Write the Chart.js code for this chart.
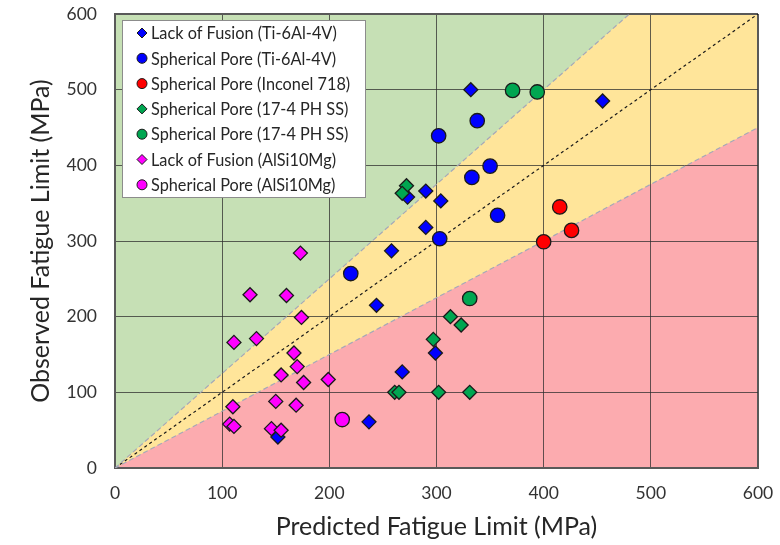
<!DOCTYPE html>
<html>
<head>
<meta charset="utf-8">
<script src="https://cdn.jsdelivr.net/npm/chart.js@4.4.1/dist/chart.umd.min.js"></script>
<style>
  html, body { margin: 0; padding: 0; background: #ffffff; }
  #wrap { width: 780px; height: 545px; }
</style>
</head>
<body>
<div id="wrap"><canvas id="chart" width="780" height="545"></canvas></div>
<script>
// Predicted vs observed fatigue limit (MPa), [predicted, observed]
const lackOfFusionTi = [
  [332, 500], [455, 485], [290, 366], [304, 353], [290, 318], [273, 358],
  [258, 287], [244, 215], [299, 152], [268, 127], [237, 61], [152, 41]
];
const sphericalPoreTi = [
  [338, 459], [302, 439], [350, 399], [333, 384], [357, 334], [303, 303], [220, 257]
];
const sphericalPoreInconel = [
  [415, 345], [426, 314], [400, 299]
];
const lackOfFusionSS = [
  [272, 373], [268, 363], [313, 200], [323, 189], [297, 170],
  [261, 100], [265, 100], [302, 100], [331, 100]
];
const sphericalPoreSS = [
  [371, 499], [394, 497], [331, 224]
];
const lackOfFusionAl = [
  [173, 284], [126, 229], [160, 228], [174, 199], [111, 166], [132, 171],
  [167, 152], [170, 134], [155, 123], [176, 113], [199, 117], [110, 81],
  [150, 88], [169, 83], [107, 58], [111, 55], [146, 52], [155, 50]
];
const sphericalPoreAl = [
  [212, 64]
];

// Reference lines: 1:1 parity and the +/-25% scatter band
const parityLine = [[0, 0], [600, 600]];
const upperBand = [[0, 0], [480, 600]];
const lowerBand = [[0, 0], [600, 450]];

const axisMin = 0;
const axisMax = 600;
const axisStep = 100;

const seriesLabels = [
  'Lack of Fusion (Ti-6Al-4V)',
  'Spherical Pore (Ti-6Al-4V)',
  'Spherical Pore (Inconel 718)',
  'Spherical Pore (17-4 PH SS)',
  'Spherical Pore (17-4 PH SS)',
  'Lack of Fusion (AlSi10Mg)',
  'Spherical Pore (AlSi10Mg)'
];
const seriesData = [
  lackOfFusionTi, sphericalPoreTi, sphericalPoreInconel,
  lackOfFusionSS, sphericalPoreSS, lackOfFusionAl, sphericalPoreAl
];
const seriesColors = ['#0000FF', '#0000FF', '#FF0000', '#00A651', '#00A651', '#FF00FF', '#FF00FF'];
const seriesShapes = ['rectRot', 'circle', 'circle', 'rectRot', 'circle', 'rectRot', 'circle'];

const FONT = 'Lato, "Open Sans", sans-serif';
const toXY = pts => pts.map(p => ({ x: p[0], y: p[1] }));

const pointSets = seriesData.map((pts, i) => ({
  type: 'scatter',
  label: seriesLabels[i],
  data: toXY(pts),
  pointStyle: seriesShapes[i],
  pointRadius: seriesShapes[i] === 'circle' ? 7.2 : 7,
  pointHoverRadius: seriesShapes[i] === 'circle' ? 7.2 : 7,
  backgroundColor: seriesColors[i],
  borderColor: '#1a1a1a',
  pointBorderWidth: 1.3,
  order: 20 - i
}));

const refLine = (pts, color, dash, label) => ({
  type: 'scatter',
  label: label,
  data: toXY(pts),
  showLine: true,
  borderColor: color,
  borderWidth: 1.2,
  borderDash: dash,
  pointRadius: 0,
  pointHoverRadius: 0,
  fill: false,
  order: 50
});

// Shaded zones behind the grid: conservative (green), band (yellow), non-conservative (pink)
const zonePlugin = {
  id: 'zones',
  beforeDraw(chart) {
    const { ctx, chartArea: a, scales: { x, y } } = chart;
    const px = p => [x.getPixelForValue(p[0]), y.getPixelForValue(p[1])];
    const poly = (pts, color) => {
      ctx.beginPath();
      pts.map(px).forEach((q, k) => (k ? ctx.lineTo(q[0], q[1]) : ctx.moveTo(q[0], q[1])));
      ctx.closePath();
      ctx.fillStyle = color;
      ctx.fill();
    };
    ctx.save();
    ctx.beginPath();
    ctx.rect(a.left, a.top, a.width, a.height);
    ctx.clip();
    ctx.fillStyle = '#FFE59A';
    ctx.fillRect(a.left, a.top, a.width, a.height);
    poly([upperBand[0], upperBand[1], [axisMin, axisMax]], '#C6E0B5');
    poly([lowerBand[0], lowerBand[1], [axisMax, axisMin]], '#FCABAF');
    ctx.restore();
  }
};

// Boxed legend in the upper-left corner of the plot
const legendPlugin = {
  id: 'boxLegend',
  afterDatasetsDraw(chart) {
    const { ctx, chartArea: a } = chart;
    const left = a.left + 7, top = a.top + 6, w = 243, h = 177;
    ctx.save();
    ctx.fillStyle = '#ffffff';
    ctx.fillRect(left, top, w, h);
    ctx.strokeStyle = '#8c8c8c';
    ctx.lineWidth = 1;
    ctx.strokeRect(left + 0.5, top + 0.5, w, h);
    ctx.font = '16.3px ' + FONT;
    ctx.textBaseline = 'middle';
    seriesLabels.forEach((lab, i) => {
      const cy = top + 13 + i * 25.3;
      const cx = left + 20;
      ctx.fillStyle = seriesColors[i];
      ctx.strokeStyle = '#1a1a1a';
      ctx.lineWidth = 1;
      Chart.helpers.drawPoint(ctx, {
        pointStyle: seriesShapes[i],
        radius: 5,
        rotation: 0,
        borderWidth: 1
      }, cx, cy);
      ctx.fillStyle = '#262626';
      ctx.fillText(lab, left + 29, cy + 1);
    });
    ctx.restore();
  }
};

const gridColor = ctx => (ctx.tick && ctx.tick.value === axisMax ? '#595959' : 'rgba(45,45,45,0.75)');
const gridWidth = ctx => (ctx.tick && ctx.tick.value === axisMax ? 2 : 1);

new Chart(document.getElementById('chart'), {
  type: 'scatter',
  data: {
    datasets: [
      ...pointSets,
      refLine(upperBand, '#A5A8B8', [5, 3], 'upper band'),
      refLine(lowerBand, '#A5A8B8', [5, 3], 'lower band'),
      refLine(parityLine, '#1a1a1a', [3, 3], 'parity')
    ]
  },
  options: {
    responsive: false,
    animation: false,
    devicePixelRatio: 1,
    layout: { padding: { left: 0, right: 22, top: 14, bottom: 0 } },
    plugins: {
      legend: { display: false },
      tooltip: { enabled: false }
    },
    scales: {
      x: {
        type: 'linear',
        min: axisMin, max: axisMax,
        afterFit: s => { s.height = 77; },
        ticks: { stepSize: axisStep, padding: 0, color: '#333333', font: { family: FONT, size: 17.5 } },
        grid: { color: gridColor, lineWidth: gridWidth, drawTicks: true, tickLength: 15, tickColor: 'rgba(0,0,0,0)' },
        border: { display: true, color: '#595959', width: 2 },
        title: {
          display: true, text: 'Predicted Fatigue Limit (MPa)', color: '#262626',
          font: { family: FONT, size: 25 }, padding: { top: 0, bottom: 3 }
        }
      },
      y: {
        type: 'linear',
        min: axisMin, max: axisMax,
        afterFit: s => { s.width = 115; },
        ticks: { stepSize: axisStep, padding: 0, color: '#333333', font: { family: FONT, size: 17.5 } },
        grid: { color: gridColor, lineWidth: gridWidth, drawTicks: true, tickLength: 18, tickColor: 'rgba(0,0,0,0)' },
        border: { display: true, color: '#595959', width: 2 },
        title: {
          display: true, text: 'Observed Fatigue Limit (MPa)', color: '#262626',
          font: { family: FONT, size: 25 }, padding: { top: 26, bottom: 0 }
        }
      }
    }
  },
  plugins: [zonePlugin, legendPlugin]
});
</script>
</body>
</html>
